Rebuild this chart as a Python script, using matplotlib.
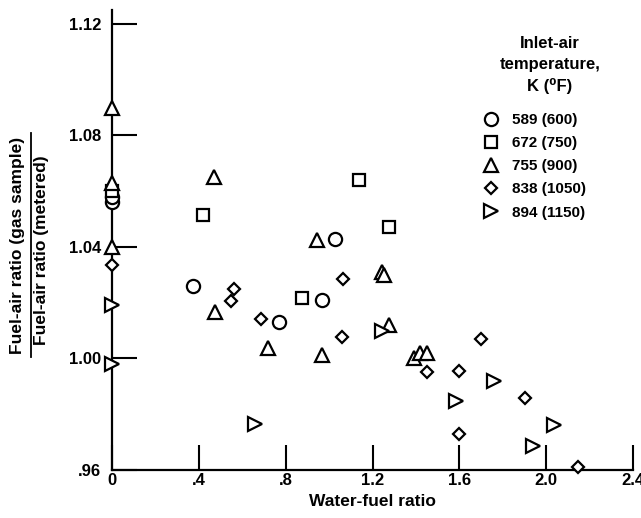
import matplotlib
matplotlib.use("Agg")
import matplotlib.pyplot as plt
from matplotlib.lines import Line2D

plt.rcParams['font.family'] = ['Liberation Sans', 'DejaVu Sans']

# water-fuel ratio / fuel-air ratio (gas sample / metered)
x589 = [0.0, 0.0, 0.374, 0.771, 0.969, 1.029]
y589 = [1.056, 1.058, 1.026, 1.013, 1.021, 1.043]

x672 = [0.0, 0.420, 0.877, 1.140, 1.274]
y672 = [1.060, 1.0515, 1.0217, 1.064, 1.047]

x755 = [0.0, 0.0, 0.0, 0.471, 0.475, 0.720, 0.946, 0.969, 1.246, 1.252, 1.274, 1.39, 1.42, 1.45]
y755 = [1.090, 1.063, 1.040, 1.065, 1.0167, 1.0038, 1.0425, 1.0013, 1.031, 1.030, 1.012, 1.000, 1.002, 1.002]

x838 = [0.0, 0.56, 0.55, 0.688, 1.066, 1.061, 1.449, 1.597, 1.698, 1.901, 1.597, 2.146]
y838 = [1.0336, 1.025, 1.0205, 1.0142, 1.0285, 1.0077, 0.995, 0.9955, 1.007, 0.9858, 0.9729, 0.9611]

x894 = [0.0, 0.0, 0.660, 1.245, 1.583, 1.758, 1.938, 2.035]
y894 = [1.0192, 0.998, 0.9765, 1.010, 0.9848, 0.9919, 0.9686, 0.9761]

series = [
    (x589, y589, 'o', 9.5, '589 (600)'),
    (x672, y672, 's', 9.0, '672 (750)'),
    (x755, y755, '^', 10.0, '755 (900)'),
    (x838, y838, 'D', 6.6, '838 (1050)'),
    (x894, y894, '>', 10.0, '894 (1150)'),
]

xticks = [0, 0.4, 0.8, 1.2, 1.6, 2.0, 2.4]
xlabels = ['0', '.4', '.8', '1.2', '1.6', '2.0', '2.4']
yticks = [0.96, 1.00, 1.04, 1.08, 1.12]
ylabels = ['.96', '1.00', '1.04', '1.08', '1.12']

W, H = 641, 518
fig = plt.figure(figsize=(W / 100, H / 100), dpi=100)
ax = fig.add_axes([112 / W, (H - 470) / H, 521 / W, 460 / H])

handles = []
for xs, ys, m, ms, lab in series:
    h, = ax.plot(xs, ys, linestyle='none', marker=m, markersize=ms,
                 markerfacecolor='white', markeredgecolor='black',
                 markeredgewidth=1.6, clip_on=False, zorder=3, label=lab)
    handles.append(h)

ax.set_xlim(0, 2.4)
ax.set_ylim(0.96, 1.125)
for s in ['top', 'right']:
    ax.spines[s].set_visible(False)
for s in ['left', 'bottom']:
    ax.spines[s].set_linewidth(1.6)

ax.set_xticks(xticks)
ax.set_xticklabels(xlabels, fontsize=12, fontweight='bold')
ax.set_yticks(yticks)
ax.set_yticklabels(ylabels, fontsize=12, fontweight='bold')
ax.tick_params(direction='in', length=18, width=1.5)
ax.tick_params(axis='x', pad=2)
ax.tick_params(axis='y', pad=8)

fig.text(372 / W, 1 - 502 / H, 'Water-fuel ratio', ha='center', va='center',
         fontsize=12.5, fontweight='bold')

# y label drawn as a fraction
fig.text(18 / W, 1 - 245 / H, 'Fuel-air ratio (gas sample)', rotation=90,
         ha='center', va='center', fontsize=12.5, fontweight='bold')
fig.text(42 / W, 1 - 250 / H, 'Fuel-air ratio (metered)', rotation=90,
         ha='center', va='center', fontsize=12.5, fontweight='bold')
fig.add_artist(Line2D([31 / W, 31 / W], [1 - 133 / H, 1 - 357 / H],
                      color='black', linewidth=1.3))

fig.text(550 / W, 1 - 65 / H, 'Inlet-air\ntemperature,\nK (⁰F)', ha='center',
         va='center', multialignment='center', linespacing=1.45,
         fontsize=12, fontweight='bold')
ax.legend(handles=handles, loc='upper left',
          bbox_to_anchor=(483 / W, 1 - 113 / H), bbox_transform=fig.transFigure,
          frameon=False, prop={'weight': 'bold', 'size': 11},
          handlelength=1.0, handletextpad=0.9, labelspacing=0.6,
          borderpad=0, borderaxespad=0)

fig.savefig('out.png', dpi=100)
